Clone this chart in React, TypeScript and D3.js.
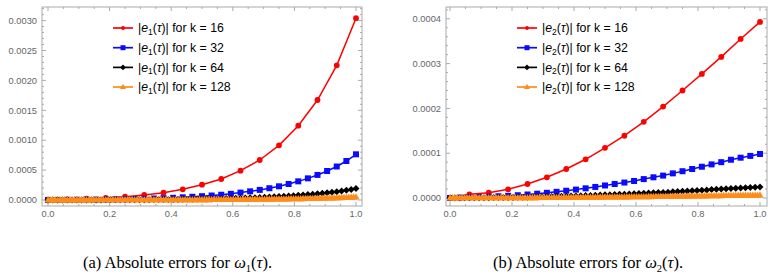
import React from 'react';
import * as d3 from 'd3';

// all error values below are in units of 1e-6
const e1k16 = [0, 10, 22, 36, 56, 84, 123, 179, 256, 351, 490, 669, 914, 1243, 1672, 2252, 3040];
const e1k32 = [0, 1.2, 2.5, 4, 5.6, 7.2, 9, 11.5, 14, 17.5, 21, 25.5, 31, 37, 45, 54, 64, 75, 88, 103,
  124, 145, 169, 197, 229, 268, 312, 362, 419, 485, 560, 652, 764];
const e1k64 = [0, 0.15, 0.3, 0.46, 0.63, 0.8, 1.0, 1.2, 1.4, 1.6, 1.8, 2.0, 2.25, 2.6, 2.9, 3.2, 3.5, 3.9, 4.4, 4.8,
  5.3, 5.8, 6.4, 7.1, 7.8, 8.5, 9.3, 10.3, 11.3, 12.4, 13.5, 14.7, 16.0, 17.4, 18.8, 20.4, 22.0, 24.0, 25.8, 28.3,
  31.0, 33.6, 36.3, 39.2, 42.3, 45.7, 49.3, 53.1, 57.3, 62.0, 67.0, 72.3, 78.0, 84.0, 90.5, 97.4, 104.8, 112.6, 121.0, 130.0,
  140.0, 151.0, 163.0, 176.0, 191.0];
const e1k128 = [0, 0.02, 0.04, 0.06, 0.075, 0.095, 0.115, 0.14, 0.16, 0.18,
  0.2, 0.225, 0.25, 0.275, 0.3, 0.325, 0.35, 0.375, 0.4, 0.425,
  0.45, 0.475, 0.5, 0.53, 0.56, 0.6, 0.65, 0.68, 0.72, 0.76,
  0.8, 0.84, 0.88, 0.93, 0.98, 1.04, 1.1, 1.15, 1.2, 1.25,
  1.3, 1.37, 1.45, 1.52, 1.6, 1.7, 1.8, 1.87, 1.95, 2.02,
  2.1, 2.2, 2.3, 2.45, 2.6, 2.7, 2.8, 2.95, 3.1, 3.25,
  3.4, 3.55, 3.7, 3.85, 4.0, 4.2, 4.4, 4.55, 4.7, 4.9,
  5.1, 5.3, 5.5, 5.75, 6.0, 6.25, 6.5, 6.8, 7.1, 7.45,
  7.8, 8.1, 8.4, 8.75, 9.1, 9.45, 9.8, 10.2, 10.6, 11.0,
  11.4, 11.85, 12.3, 12.8, 13.3, 13.8, 14.3, 14.9, 15.5, 16.1,
  16.8, 17.4, 18.1, 18.8, 19.5, 20.2, 21.0, 21.8, 22.6, 23.5,
  24.4, 25.3, 26.2, 27.2, 28.2, 29.2, 30.3, 31.4, 32.5, 33.7,
  35.0, 36.4, 37.8, 39.3, 40.8, 42.4, 44.0, 45.9, 47.8];

const e2k16 = [0, 8.3, 11.8, 19.4, 31.3, 46.2, 64.7, 86.4, 112, 139, 170, 204, 240, 277, 315, 355, 393];
const e2k32 = [0, 1.0, 1.8, 2.4, 3.0, 3.9, 4.9, 6.2, 7.8, 9.6, 11.6, 13.8, 16.2, 18.8, 21.6, 24.7, 28.0, 31.2, 34.5, 38.0,
  42.2, 46.2, 50.0, 55.0, 59.8, 64.7, 69.8, 75.0, 80.0, 85.4, 90.0, 94.0, 98.2];
const e2k64 = [0, 0.12, 0.25, 0.35, 0.45, 0.52, 0.6, 0.68, 0.75, 0.86, 0.98, 1.1, 1.22, 1.38, 1.55, 1.75, 1.95, 2.17, 2.4, 2.65,
  2.9, 3.17, 3.45, 3.75, 4.05, 4.37, 4.7, 5.05, 5.4, 5.8, 6.2, 6.6, 7.0, 7.4, 7.8, 8.2, 8.6, 9.05, 9.5, 10.0,
  10.5, 11.0, 11.55, 12.0, 12.5, 13.1, 13.75, 14.35, 14.95, 15.6, 16.2, 16.8, 17.45, 18.1, 18.75, 19.4, 20.0, 20.7, 21.35, 21.9,
  22.5, 23.0, 23.5, 24.05, 24.6];
const e2k128 = [0, 0.015, 0.03, 0.045, 0.06, 0.075, 0.09, 0.1, 0.11, 0.12,
  0.13, 0.14, 0.15, 0.16, 0.17, 0.18, 0.19, 0.2, 0.21, 0.23,
  0.25, 0.265, 0.28, 0.29, 0.3, 0.325, 0.35, 0.37, 0.39, 0.415,
  0.44, 0.465, 0.49, 0.515, 0.54, 0.57, 0.6, 0.63, 0.66, 0.69,
  0.72, 0.755, 0.79, 0.825, 0.86, 0.9, 0.94, 0.975, 1.01, 1.05,
  1.09, 1.135, 1.18, 1.22, 1.26, 1.305, 1.35, 1.4, 1.45, 1.5,
  1.55, 1.6, 1.65, 1.7, 1.75, 1.8, 1.85, 1.9, 1.95, 2.0,
  2.05, 2.1, 2.15, 2.2, 2.26, 2.32, 2.38, 2.44, 2.5, 2.56,
  2.62, 2.68, 2.75, 2.82, 2.89, 2.94, 3.0, 3.06, 3.12, 3.2,
  3.28, 3.36, 3.44, 3.51, 3.59, 3.66, 3.74, 3.82, 3.9, 3.97,
  4.05, 4.12, 4.2, 4.28, 4.36, 4.44, 4.52, 4.6, 4.69, 4.77,
  4.85, 4.92, 5.0, 5.08, 5.17, 5.25, 5.34, 5.4, 5.47, 5.55,
  5.62, 5.68, 5.75, 5.81, 5.88, 5.94, 6.01, 6.08, 6.15];

const kValues = [16, 32, 64, 128];
const xTicks = [0, 0.2, 0.4, 0.6, 0.8, 1.0];
const yTicksLeft = [0, 500, 1000, 1500, 2000, 2500, 3000];
const yTicksRight = [0, 100, 200, 300, 400];

const colors = ['#ff0000', '#0a0aff', '#000000', '#ff8c1a'];
const shapes = ['circle', 'square', 'diamond', 'triangle'];

function markerPath(shape: string, s: number) {
  if (shape === 'circle') return d3.symbol(d3.symbolCircle, Math.PI * s * s)()!;
  if (shape === 'square') return `M${-s},${-s}H${s}V${s}H${-s}Z`;
  if (shape === 'diamond') return `M0,${-s * 1.25}L${s * 1.25},0L0,${s * 1.25}L${-s * 1.25},0Z`;
  return `M0,${-s * 1.3}L${s * 1.2},${s * 0.8}L${-s * 1.2},${s * 0.8}Z`;
}
const markerSize = [2.9, 3.0, 2.8, 3.0];
const legendMarker = [1.9, 2.5, 2.3, 2.5];

const tickFont = { fontFamily: 'Liberation Sans, Arial, sans-serif', fontSize: 9.3, fill: '#666' };

function Panel({ series, sub, x0, x1, xr0, xr1, y0, y1, yZero, yTop, yTopVal, yTicks, legendX }: any) {
  const x = d3.scaleLinear().domain([0, 1]).range([xr0, xr1]);
  const y = d3.scaleLinear().domain([0, yTopVal]).range([yZero, yTop]);
  const line = d3.line<[number, number]>().x(d => x(d[0])).y(d => y(d[1]));
  const xMinor = d3.range(-0.0001, 1.02, 0.05).map(v => +v.toFixed(2)).filter(v => !xTicks.includes(v) && v >= 0);
  const yStep = yTicks[1] - yTicks[0];
  const yMinor = d3.range(0, y.invert(y0), yStep / 5).filter((v: number) => Math.abs(v / yStep - Math.round(v / yStep)) > 1e-6);
  const frame = '#aaaaaa';
  const rows = [28, 47.7, 67.4, 87];
  return (
    <g>
      <rect x={x0} y={y0} width={x1 - x0} height={y1 - y0} fill="none" stroke={frame} strokeWidth={1} />
      {xTicks.map(t => (
        <g key={'xt' + t}>
          <line x1={x(t)} x2={x(t)} y1={y1} y2={y1 - 4} stroke={frame} />
          <line x1={x(t)} x2={x(t)} y1={y0} y2={y0 + 4} stroke={frame} />
          <text x={x(t)} y={y1 + 10.5} textAnchor="middle" {...tickFont}>{t.toFixed(1)}</text>
        </g>
      ))}
      {xMinor.map(t => (
        <g key={'xm' + t}>
          <line x1={x(t)} x2={x(t)} y1={y1} y2={y1 - 2} stroke={frame} />
          <line x1={x(t)} x2={x(t)} y1={y0} y2={y0 + 2} stroke={frame} />
        </g>
      ))}
      {yTicks.map((t: number) => (
        <g key={'yt' + t}>
          <line x1={x0} x2={x0 + 4} y1={y(t)} y2={y(t)} stroke={frame} />
          <line x1={x1} x2={x1 - 4} y1={y(t)} y2={y(t)} stroke={frame} />
          <text x={x0 - 5} y={y(t) + 3.2} textAnchor="end" {...tickFont}>{(t * 1e-6).toFixed(4)}</text>
        </g>
      ))}
      {yMinor.map((t: number) => (
        <g key={'ym' + t}>
          <line x1={x0} x2={x0 + 2} y1={y(t)} y2={y(t)} stroke={frame} />
          <line x1={x1} x2={x1 - 2} y1={y(t)} y2={y(t)} stroke={frame} />
        </g>
      ))}
      {series.map((vals: number[], si: number) => {
        const pts: [number, number][] = vals.map((v, i) => [i / (vals.length - 1), v]);
        return (
          <g key={'s' + si}>
            <path d={line(pts)!} fill="none" stroke={colors[si]} strokeWidth={1.5} />
            {pts.map((p, i) => (
              <path key={i} d={markerPath(shapes[si], markerSize[si])} transform={`translate(${x(p[0])},${y(p[1])})`} fill={colors[si]} />
            ))}
          </g>
        );
      })}
      {kValues.map((k, i) => (
        <g key={'lg' + k}>
          <line x1={legendX} x2={legendX + 20} y1={rows[i]} y2={rows[i]} stroke={colors[i]} strokeWidth={1.7} />
          <path d={markerPath(shapes[i], legendMarker[i])} transform={`translate(${legendX + 10},${rows[i]})`} fill={colors[i]} />
          <text x={legendX + 25} y={rows[i] + 4.3} fontFamily="Liberation Sans, Arial, sans-serif" fontSize={12.3} fill="#000">
            |<tspan fontStyle="italic">e</tspan><tspan fontSize={8.5} dy={2.5}>{sub}</tspan><tspan dy={-2.5}>(</tspan><tspan fontStyle="italic">τ</tspan>)| for k = {k}
          </text>
        </g>
      ))}
    </g>
  );
}

export default function App() {
  const captionFont = { fontFamily: 'Liberation Serif, Times New Roman, serif', fontSize: 16.5, fill: '#000' };
  return (
    <div style={{ position: 'fixed', left: 0, top: 0 }}>
      <svg width={780} height={278} style={{ display: 'block', background: '#fff' }}>
        <Panel series={[e1k16, e1k32, e1k64, e1k128]} sub="1" x0={42} x1={362} xr0={48} xr1={356} y0={7} y1={206}
          yZero={200} yTop={20.6} yTopVal={3000} yTicks={yTicksLeft} legendX={113} />
        <Panel series={[e2k16, e2k32, e2k64, e2k128]} sub="2" x0={446} x1={767} xr0={450} xr1={760} y0={7} y1={206}
          yZero={198} yTop={18.8} yTopVal={400} yTicks={yTicksRight} legendX={517} />
        <text x={83} y={268} {...captionFont}>
          (a) Absolute errors for  <tspan fontStyle="italic">ω</tspan><tspan fontSize={10.5} dy={3.5}>1</tspan><tspan dy={-3.5}>(</tspan><tspan fontStyle="italic">τ</tspan>).
        </text>
        <text x={493} y={268} {...captionFont}>
          (b) Absolute errors for  <tspan fontStyle="italic">ω</tspan><tspan fontSize={10.5} dy={3.5}>2</tspan><tspan dy={-3.5}>(</tspan><tspan fontStyle="italic">τ</tspan>).
        </text>
      </svg>
    </div>
  );
}
